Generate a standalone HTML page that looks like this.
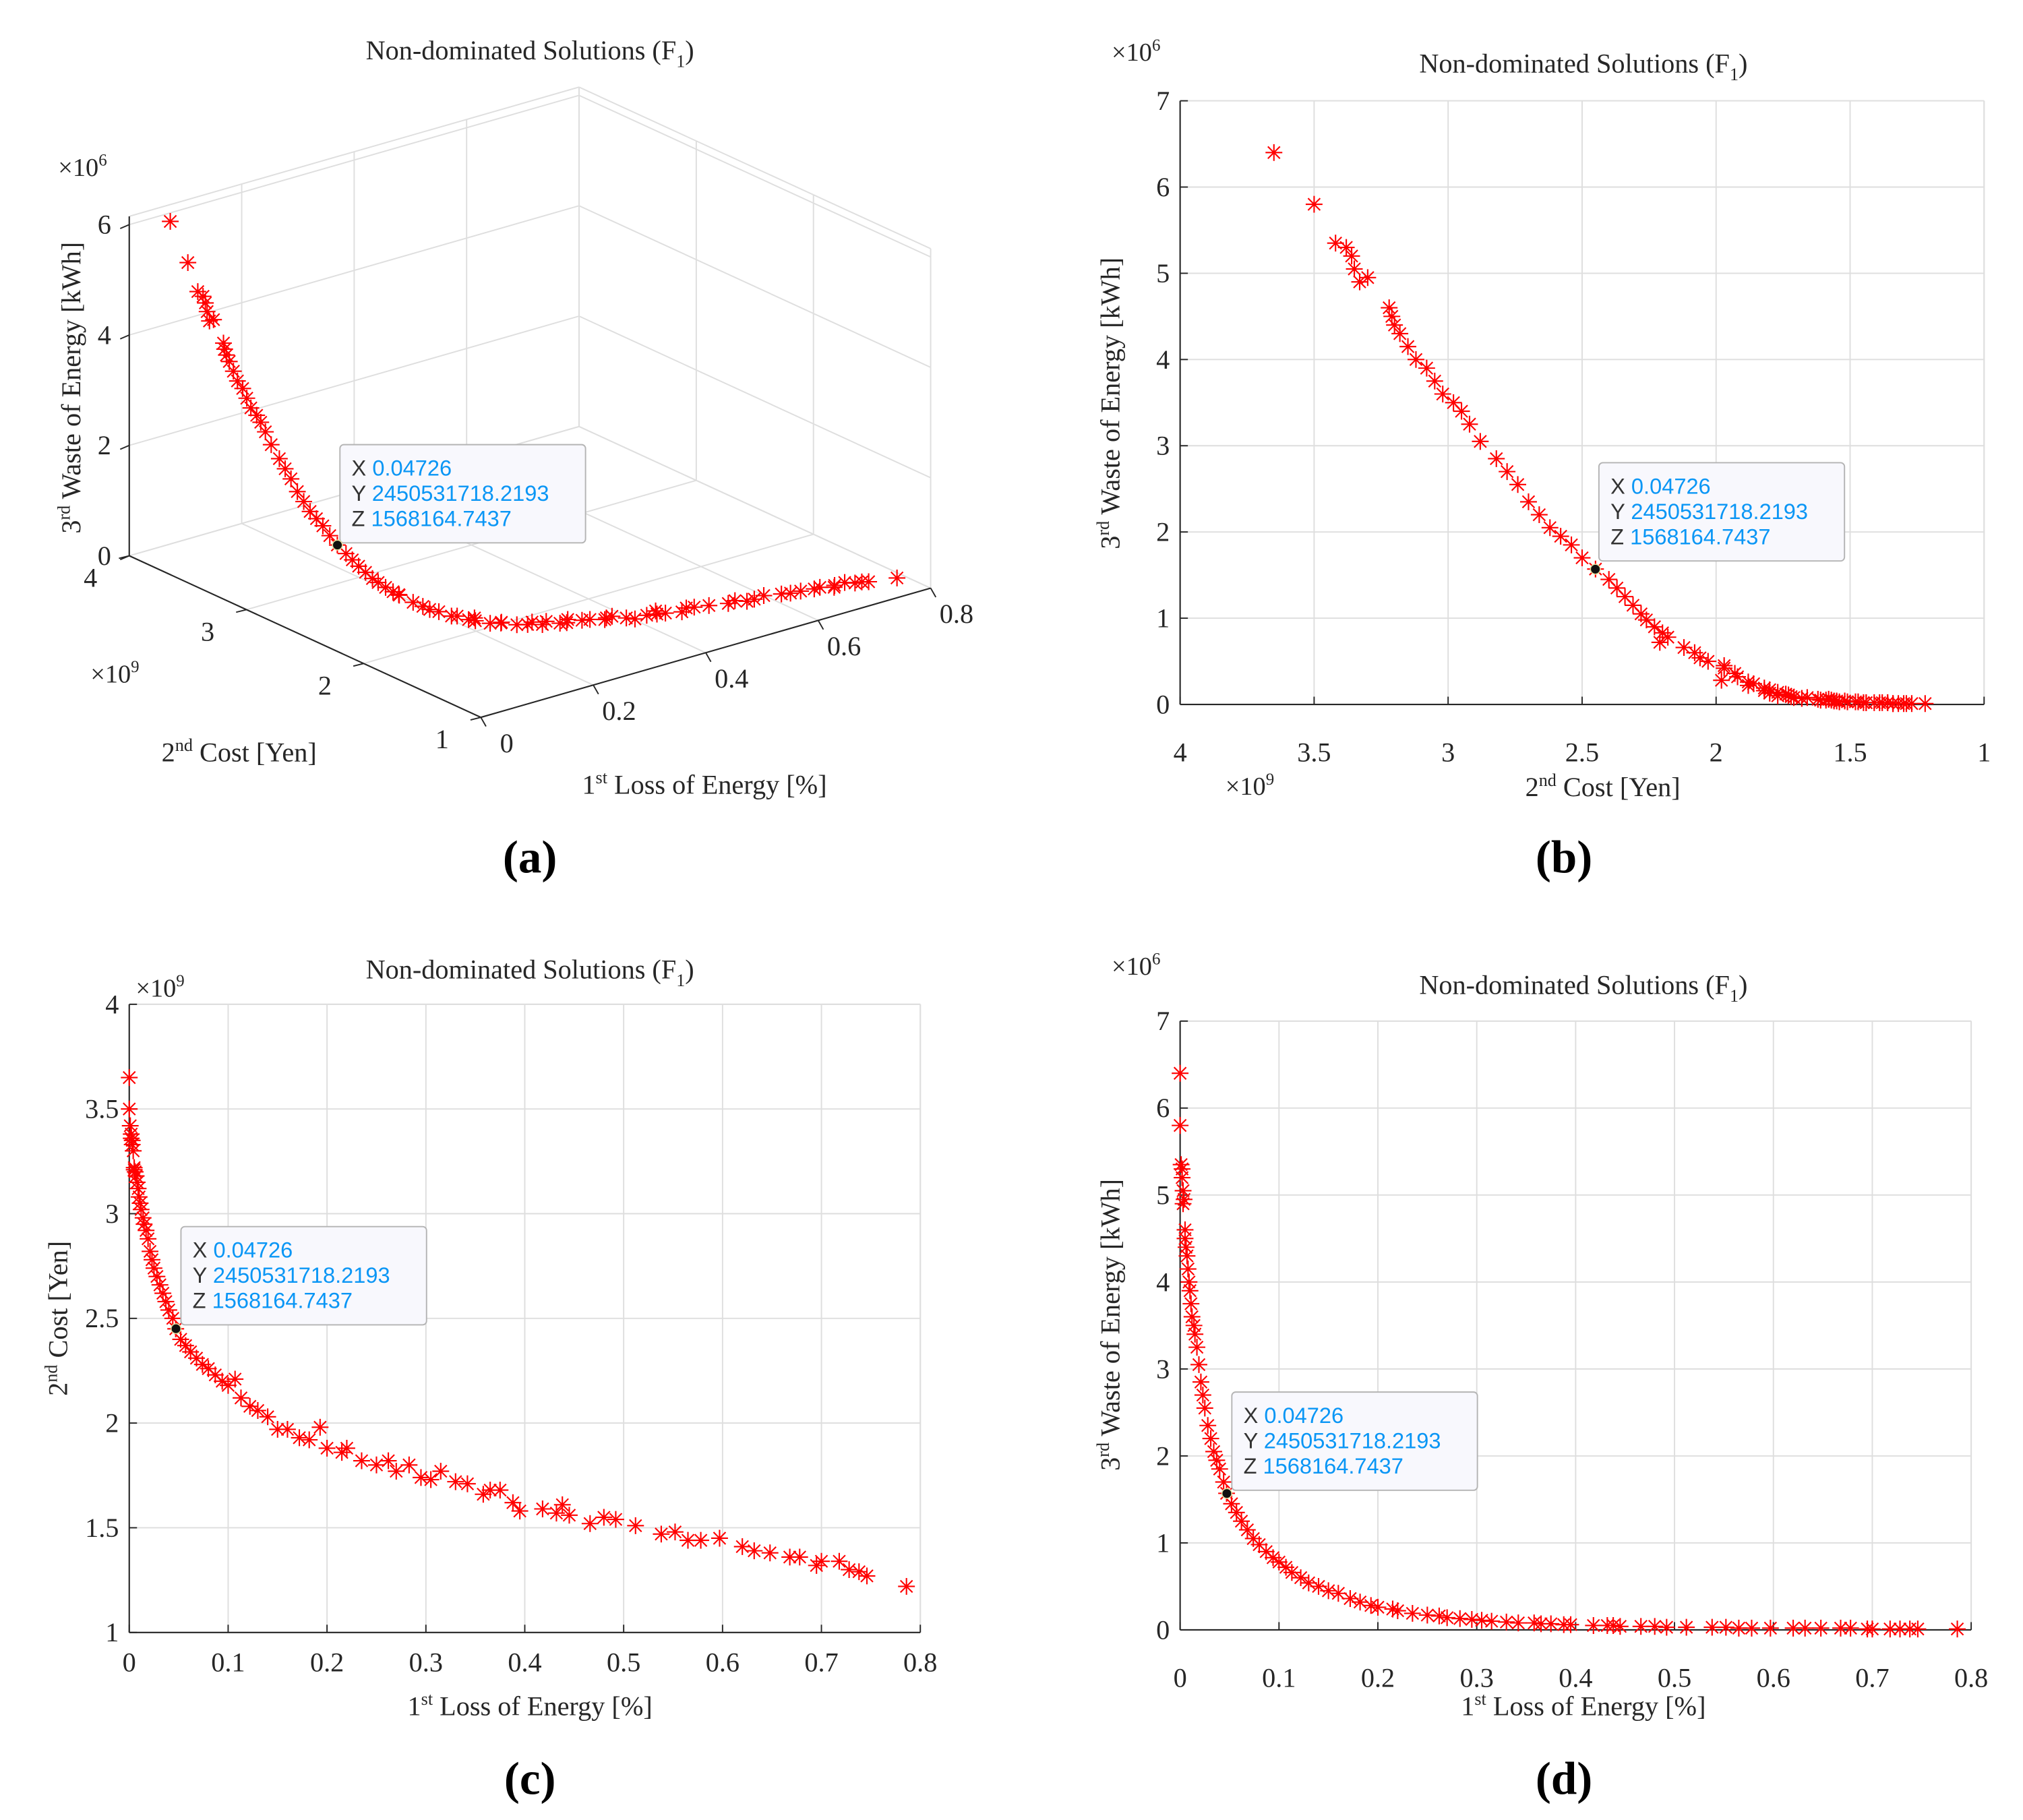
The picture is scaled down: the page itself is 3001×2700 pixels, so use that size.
<!DOCTYPE html>
<html><head><meta charset="utf-8"><style>
html,body{margin:0;padding:0;background:#fff;}
svg{display:block;}
text{font-family:"Liberation Serif",serif;fill:#262626;}
.dt{font-family:"Liberation Sans",sans-serif;font-size:17px;}
</style></head><body>
<svg id="fig" width="3001" height="2700" viewBox="0 0 1565.1 1408.1" preserveAspectRatio="none" xmlns="http://www.w3.org/2000/svg">
<rect width="1565.1" height="1408.1" fill="#fff"/>
</svg>
<script>
const loss=[0.000,0.000,0.001,0.002,0.002,0.003,0.003,0.004,0.005,0.005,0.006,0.007,0.008,0.009,0.010,0.011,0.012,0.014,0.015,0.017,0.019,0.021,0.023,0.025,0.028,0.031,0.034,0.037,0.040,0.044,0.047,0.052,0.057,0.062,0.068,0.074,0.080,0.087,0.094,0.100,0.107,0.113,0.122,0.130,0.140,0.150,0.160,0.172,0.182,0.193,0.200,0.215,0.220,0.235,0.250,0.262,0.270,0.283,0.295,0.305,0.315,0.330,0.342,0.358,0.365,0.375,0.388,0.395,0.418,0.432,0.438,0.445,0.466,0.480,0.492,0.512,0.538,0.552,0.565,0.578,0.597,0.620,0.632,0.648,0.668,0.678,0.695,0.700,0.718,0.728,0.738,0.746,0.786];
const cost=[3.65,3.50,3.42,3.38,3.36,3.35,3.33,3.30,3.22,3.21,3.20,3.18,3.15,3.12,3.08,3.05,3.02,2.98,2.95,2.92,2.88,2.82,2.78,2.74,2.70,2.66,2.62,2.58,2.54,2.50,2.45,2.40,2.37,2.34,2.31,2.28,2.26,2.23,2.20,2.18,2.21,2.12,2.08,2.06,2.03,1.97,1.97,1.93,1.92,1.98,1.88,1.86,1.88,1.82,1.80,1.82,1.77,1.80,1.74,1.73,1.77,1.72,1.71,1.66,1.68,1.68,1.62,1.58,1.59,1.57,1.61,1.56,1.52,1.55,1.54,1.51,1.47,1.48,1.44,1.44,1.45,1.41,1.39,1.38,1.36,1.36,1.32,1.34,1.34,1.30,1.29,1.27,1.22];
const waste=[6.40,5.80,5.35,5.30,5.20,5.05,4.90,4.95,4.60,4.50,4.40,4.30,4.15,4.00,3.90,3.75,3.60,3.50,3.40,3.25,3.05,2.85,2.70,2.55,2.35,2.20,2.05,1.95,1.85,1.70,1.57,1.45,1.35,1.25,1.15,1.05,0.98,0.90,0.83,0.78,0.72,0.66,0.60,0.54,0.50,0.45,0.42,0.36,0.32,0.28,0.26,0.24,0.22,0.19,0.17,0.16,0.14,0.13,0.12,0.11,0.10,0.09,0.08,0.08,0.07,0.07,0.06,0.06,0.05,0.05,0.05,0.04,0.04,0.04,0.03,0.03,0.03,0.03,0.02,0.02,0.02,0.02,0.02,0.02,0.02,0.02,0.01,0.01,0.01,0.01,0.01,0.01,0.01];
const tip=[0.04726,2.4505317182193,1.5681647437];
const tipText=["0.04726","2450531718.2193","1568164.7437"];
const lossTicks=[0,0.1,0.2,0.3,0.4,0.5,0.6,0.7,0.8];
const lossTicks3=[0,0.2,0.4,0.6,0.8];
const costTicksB=[4,3.5,3,2.5,2,1.5,1];
const costTicksC=[1,1.5,2,2.5,3,3.5,4];
const costTicks3=[1,2,3,4];
const wasteTicks=[0,1,2,3,4,5,6,7];
const wasteTicks3=[0,2,4,6];

const NS="http://www.w3.org/2000/svg";
const fig=document.getElementById('fig');
function el(tag,parent){const e=document.createElementNS(NS,tag);parent.appendChild(e);return e;}
function lin(d0,d1,r0,r1){return v=>r0+(v-d0)/(d1-d0)*(r1-r0);}
function line(g,x1,y1,x2,y2,col,w){const l=el('line',g);l.setAttribute('x1',x1);l.setAttribute('y1',y1);l.setAttribute('x2',x2);l.setAttribute('y2',y2);l.setAttribute('stroke',col);l.setAttribute('stroke-width',w);return l;}
function txt(g,x,y,s,size,anchor){const t=el('text',g);t.setAttribute('x',x);t.setAttribute('y',y);t.setAttribute('font-size',size);t.setAttribute('text-anchor',anchor||'middle');t.textContent=s;return t;}
// parts: [text, dy, small]
function rich(g,x,y,parts,size,anchor,rot){
 const t=el('text',g);t.setAttribute('x',x);t.setAttribute('y',y);t.setAttribute('font-size',size);t.setAttribute('text-anchor',anchor||'middle');
 if(rot)t.setAttribute('transform','rotate(-90 '+x+' '+y+')');
 parts.forEach(p=>{const s=el('tspan',t);s.textContent=p[0];
  s.setAttribute('font-size',p[2]?size*0.65:size);
  if(p[1])s.setAttribute('dy',p[1]);});
 return t;}
function star(g,x,y){
 const r=6.5,d=r*0.72;
 const p=el('path',g);
 p.setAttribute('d','M'+(x-r)+' '+y+'H'+(x+r)+'M'+x+' '+(y-r)+'V'+(y+r)+'M'+(x-d)+' '+(y-d)+'L'+(x+d)+' '+(y+d)+'M'+(x-d)+' '+(y+d)+'L'+(x+d)+' '+(y-d));
 p.setAttribute('stroke','#ff0000');p.setAttribute('stroke-width','1.1');p.setAttribute('fill','none');
 
 
}
function tipBox(g,bx,by,px,py){
 const r=el('rect',g);r.setAttribute('x',bx);r.setAttribute('y',by);r.setAttribute('width',190);r.setAttribute('height',76);r.setAttribute('rx',3);r.setAttribute('fill','#f8f8fd');r.setAttribute('stroke','#b4b4b4');r.setAttribute('stroke-width',1);
 
 
 ['X','Y','Z'].forEach((k,i)=>{
  const t=el('text',g);t.setAttribute('class','dt');t.setAttribute('x',bx+9);t.setAttribute('y',by+24+i*19.5);
  const a=el('tspan',t);a.textContent=k+' ';a.setAttribute('style','fill:#333');
  const b=el('tspan',t);b.textContent=tipText[i];b.setAttribute('style','fill:#0a96f5');
  
  
 });
 const c=el('circle',g);c.setAttribute('cx',px);c.setAttribute('cy',py);c.setAttribute('r',3.8);c.setAttribute('fill','#111');c.setAttribute('stroke','#e8e0a0');c.setAttribute('stroke-width',0.8);
 
 
}
const GRID='#dedede', AX='#262626', TS=21;
const SUP=(s)=>[[s[0]],[s[1],-8,true],[s[2],8]];

function panel2d(o){
 const g=el('g',fig);
 
 
 const sx=o.sx, sy=o.sy;
 o.xt.forEach(v=>{line(g,sx(v),o.top,sx(v),o.bot,GRID,1);});
 o.yt.forEach(v=>{line(g,o.left,sy(v),o.right,sy(v),GRID,1);});
 line(g,o.right,o.top,o.right,o.bot,GRID,1);line(g,o.left,o.top,o.right,o.top,GRID,1);
 const xa=line(g,o.left,o.bot,o.right,o.bot,AX,1.1);
 
 
 const ya=line(g,o.left,o.top,o.left,o.bot,AX,1.1);
 
 
 o.xt.forEach(v=>{line(g,sx(v),o.bot,sx(v),o.bot-6,AX,1);const t=txt(g,sx(v),o.bot+o.xlo,String(v),TS);
  
  });
 o.yt.forEach(v=>{line(g,o.left,sy(v),o.left+6,sy(v),AX,1);const t=txt(g,o.left-8,sy(v)+7,String(v),TS,'end');
  
  });
 const ti=rich(g,o.tx,o.ty,[['Non-dominated Solutions (F'],['1',6,true],[')',-6]],21);
 
 
 const xl=rich(g,o.xlx,o.xly,o.xlab,21);
 
 
 const yl=rich(g,o.ylx,o.yly,o.ylab,21,'middle',true);
 
 
 o.mult.forEach(m=>{const t=rich(g,m[0],m[1],[['\u00d710'],[m[2],-8,true]],20,'start');
  
  });
 const pl=txt(g,o.plx,o.ply,o.plab,36);pl.setAttribute('font-weight','bold');pl.setAttribute('style','fill:#000');
 
 
 o.xs.forEach((x,i)=>star(g,sx(x),sy(o.ys[i])));
 tipBox(g,o.bx,o.by,sx(o.tipx),sy(o.tipy));
}

// Panel b
panel2d({name:'panel-b',sx:lin(4,1,913,1535),sy:lin(0,7,545,78),left:913,right:1535,top:78,bot:545,
 xt:costTicksB,yt:wasteTicks,xlo:44,xs:cost,ys:waste,tx:1225,ty:56,
 xlab:SUP(['2','nd',' Cost [Yen]']),xlx:1240,xly:616,
 ylab:SUP(['3','rd',' Waste of Energy [kWh]']),ylx:866,yly:312,
 mult:[[860,47,'6'],[948,615,'9']],plx:1210,ply:675,plab:'(b)',bx:1237,by:358,tipx:tip[1],tipy:tip[2]});
// Panel c
panel2d({name:'panel-c',sx:lin(0,0.8,100,712),sy:lin(1,4,1263,777),left:100,right:712,top:777,bot:1263,
 xt:lossTicks,yt:costTicksC,xlo:30,xs:loss,ys:cost,tx:410,ty:757,
 xlab:SUP(['1','st',' Loss of Energy [%]']),xlx:410,xly:1327,
 ylab:SUP(['2','nd',' Cost [Yen]']),ylx:52,yly:1020,
 mult:[[105,771,'9']],plx:410,ply:1388,plab:'(c)',bx:140,by:949,tipx:tip[0],tipy:tip[1]});
// Panel d
panel2d({name:'panel-d',sx:lin(0,0.8,913,1525),sy:lin(0,7,1261,790),left:913,right:1525,top:790,bot:1261,
 xt:lossTicks,yt:wasteTicks,xlo:44,xs:loss,ys:waste,tx:1225,ty:769,
 xlab:SUP(['1','st',' Loss of Energy [%]']),xlx:1225,xly:1327,
 ylab:SUP(['3','rd',' Waste of Energy [kWh]']),ylx:866,yly:1025,
 mult:[[860,754,'6']],plx:1210,ply:1388,plab:'(d)',bx:953,by:1077,tipx:tip[0],tipy:tip[2]});

// Panel a (3D)
(function(){
 const g=el('g',fig);
 
 
 const ZMAX=6.15;
 function P(x,y,z){return [100+x/0.8*348+(4-y)/3*272, 430-x/0.8*100+(4-y)/3*125-z*42.7];}
 function L(a,b,col,w){return line(g,a[0],a[1],b[0],b[1],col,w);}
 lossTicks3.forEach(v=>L(P(v,4,0),P(v,1,0),GRID,1));
 costTicks3.forEach(v=>L(P(0,v,0),P(0.8,v,0),GRID,1));
 lossTicks3.forEach(v=>L(P(v,4,0),P(v,4,ZMAX),GRID,1));
 wasteTicks3.forEach(v=>L(P(0,4,v),P(0.8,4,v),GRID,1));
 costTicks3.forEach(v=>L(P(0.8,v,0),P(0.8,v,ZMAX),GRID,1));
 wasteTicks3.forEach(v=>L(P(0.8,4,v),P(0.8,1,v),GRID,1));
 L(P(0,4,ZMAX),P(0.8,4,ZMAX),GRID,1);L(P(0.8,4,ZMAX),P(0.8,1,ZMAX),GRID,1);
 const za=L(P(0,4,0),P(0,4,ZMAX),AX,1.1);
 
 
 const ya=L(P(0,4,0),P(0,1,0),AX,1.1);
 
 
 const xa=L(P(0,1,0),P(0.8,1,0),AX,1.1);
 
 
 wasteTicks3.forEach(v=>{const p=P(0,4,v);line(g,p[0],p[1],p[0]-7,p[1]+3,AX,1);const t=txt(g,p[0]-14,p[1]+7,String(v),TS,'end');
  
  });
 costTicks3.forEach(v=>{const p=P(0,v,0);line(g,p[0],p[1],p[0]-8,p[1]+2,AX,1);const t=txt(g,p[0]-30,p[1]+24,String(v),TS,'middle');
  
  });
 lossTicks3.forEach(v=>{const p=P(v,1,0);line(g,p[0],p[1],p[0]+4,p[1]+7,AX,1);const t=txt(g,p[0]+20,p[1]+27,String(v),TS,'middle');
  
  });
 const ti=rich(g,410,46,[['Non-dominated Solutions (F'],['1',6,true],[')',-6]],21);
 
 
 const zl=rich(g,62,300,SUP(['3','rd',' Waste of Energy [kWh]']),21,'middle',true);
 
 
 const yl=rich(g,185,589,SUP(['2','nd',' Cost [Yen]']),21);
 
 
 const xl=rich(g,545,614,SUP(['1','st',' Loss of Energy [%]']),21);
 
 
 const m1=rich(g,45,136,[['\u00d710'],['6',-8,true]],20,'start');
 
 
 const m2=rich(g,70,528,[['\u00d710'],['9',-8,true]],20,'start');
 
 
 const pl=txt(g,410,675,'(a)',36);pl.setAttribute('font-weight','bold');pl.setAttribute('style','fill:#000');
 
 
 loss.forEach((x,i)=>{const p=P(x,cost[i],waste[i]);star(g,p[0],p[1]);});
 const tp=P(tip[0],tip[1],tip[2]);
 tipBox(g,263,344,tp[0],tp[1]);
})();
</script>
</body></html>
